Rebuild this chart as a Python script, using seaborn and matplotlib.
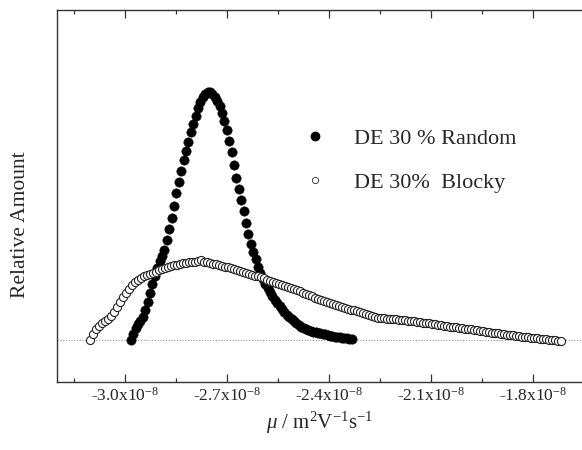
import numpy as np
import pandas as pd
import matplotlib
matplotlib.use("Agg")
import matplotlib.pyplot as plt
from matplotlib.ticker import MultipleLocator, FuncFormatter
import seaborn as sns

# mobility grid in units of 1e-8 m2/Vs, relative amount in arbitrary units
random_x_range = (-2.984, -2.334)
random_amount = [
    0, 6, 12, 16, 19, 23, 30, 38, 47, 56, 64, 72, 79, 84, 90, 100, 111, 122, 134, 147,
    158, 169, 180, 189, 198, 208, 216, 224, 232, 238, 243, 246, 248, 248, 246, 243, 239, 234, 227, 219,
    210, 199, 188, 175, 162, 151, 140, 129, 117, 106, 96, 88, 81, 73, 67, 61, 56, 52, 48, 44,
    40, 37, 34, 31, 28, 25, 23, 21, 19, 17, 15, 13, 12, 11, 10, 9, 8, 8, 7, 7,
    6, 6, 5, 4, 4, 3, 3, 3, 2, 2, 2, 1, 1,
]
blocky_x_range = (-3.104, -1.719)
blocky_amount = [
    0, 6, 11, 14, 17, 19, 21, 24, 28, 33, 38, 43, 47, 51, 55, 58, 60, 62, 64, 65,
    66, 67, 68, 70, 71, 72, 73, 74, 75, 75, 76, 77, 77, 78, 78, 78, 79, 80, 78, 78,
    77, 76, 76, 75, 74, 73, 73, 72, 71, 70, 69, 68, 67, 66, 65, 64, 64, 63, 62, 60,
    59, 58, 57, 56, 55, 54, 53, 52, 51, 50, 49, 47, 46, 45, 44, 42, 41, 40, 39, 38,
    37, 36, 35, 34, 33, 32, 31, 30, 30, 29, 28, 27, 26, 25, 24, 23, 22, 22, 22, 21,
    21, 21, 21, 20, 20, 20, 19, 19, 19, 18, 18, 17, 17, 17, 16, 16, 15, 15, 14, 14,
    13, 13, 13, 12, 12, 11, 11, 11, 10, 10, 9, 9, 8, 8, 7, 7, 7, 6, 6, 5,
    5, 5, 4, 4, 3, 3, 3, 2, 2, 2, 1, 1, 1, 0, 0, 0, -1, -1,
]
series_labels = ["DE 30 % Random", "DE 30%  Blocky"]
x_ticks = [-3.0, -2.7, -2.4, -2.1, -1.8]

df_random = pd.DataFrame({
    "mu": np.linspace(*random_x_range, len(random_amount)),
    "amount": random_amount,
})
df_blocky = pd.DataFrame({
    "mu": np.linspace(*blocky_x_range, len(blocky_amount)),
    "amount": blocky_amount,
})

sns.set_style("ticks")
plt.rcParams["font.family"] = ["Liberation Serif", "DejaVu Serif"]
plt.rcParams["mathtext.fontset"] = "custom"
plt.rcParams["mathtext.rm"] = "Liberation Serif"
plt.rcParams["mathtext.it"] = "Liberation Serif:italic"

fig = plt.figure(figsize=(5.82, 4.5), dpi=100)
ax = fig.add_axes([0.0974, 0.1518, 0.9026, 0.8249])

ax.axhline(0, color="#999999", linestyle=(0, (1, 1.5)), linewidth=0.8, zorder=1)

sns.scatterplot(data=df_random, x="mu", y="amount", ax=ax, color="black",
                edgecolor="black", linewidth=0.3, s=46, marker="o", zorder=2)
sns.scatterplot(data=df_blocky, x="mu", y="amount", ax=ax, facecolor="white",
                edgecolor="#222222", linewidth=0.8, s=34, marker="o", zorder=3)

h1 = plt.Line2D([], [], marker="o", linestyle="none", color="black", markersize=6)
h2 = plt.Line2D([], [], marker="o", linestyle="none", markerfacecolor="white",
                markeredgecolor="black", markeredgewidth=0.5, markersize=4.5)
ax.legend([h1, h2], series_labels, frameon=False, fontsize=16,
          loc="upper left", bbox_to_anchor=(0.433, 0.707), handletextpad=0.75,
          labelspacing=1.05, borderaxespad=0)

ax.set_xlim(-3.2024, -1.656)
ax.set_ylim(-41.7, 329.5)
ax.xaxis.set_minor_locator(MultipleLocator(0.15))
ax.set_xticks(x_ticks)
ax.xaxis.set_major_formatter(FuncFormatter(lambda v, p: f"{v:.1f}x10$^{{-8}}$"))
ax.set_yticks([])
ax.tick_params(axis="x", which="both", direction="in", top=True, labelsize=12.5, pad=4)
ax.tick_params(axis="x", which="major", length=6, width=0.9, color="#333333")
ax.tick_params(axis="x", which="minor", length=3, width=0.9, color="#333333")

for side in ["left", "top", "bottom"]:
    ax.spines[side].set_color("#333333")
    ax.spines[side].set_linewidth(1.0)
ax.spines["right"].set_visible(False)

ax.set_xlabel(r"$\mu$ / m$^2$V$^{-1}$s$^{-1}$", fontsize=15, labelpad=3)
ax.set_ylabel("Relative Amount", fontsize=15.5)
ax.yaxis.set_label_coords(-0.05, 0.422)

fig.savefig("out.png", dpi=100)
plt.close(fig)
